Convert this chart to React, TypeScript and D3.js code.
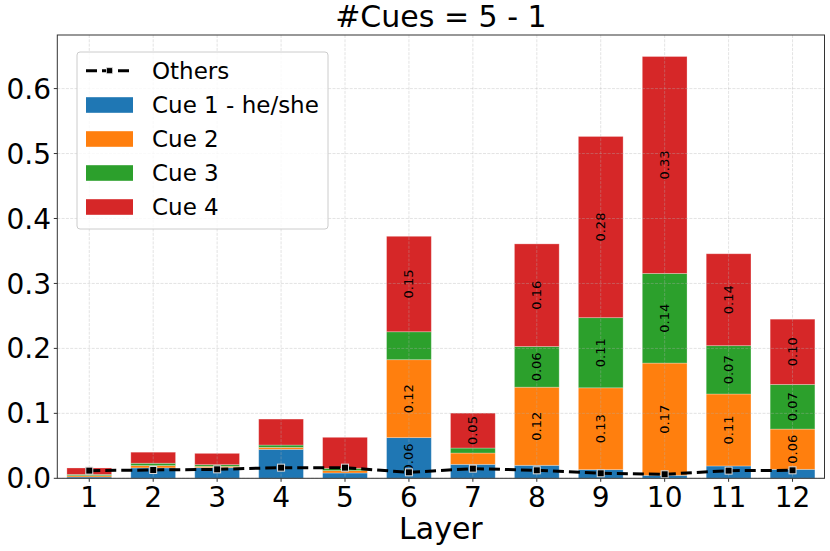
import React from 'react';
import * as d3 from 'd3';

// values
const layers = [1, 2, 3, 4, 5, 6, 7, 8, 9, 10, 11, 12];
const cue1 = [0.002, 0.016, 0.0164, 0.0446, 0.0082, 0.0626, 0.0215, 0.02, 0.0133, 0.0046, 0.019, 0.0138];
const cue2 = [0.002, 0.0036, 0.002, 0.003, 0.0036, 0.12, 0.0174, 0.1203, 0.126, 0.1728, 0.1108, 0.062];
const cue3 = [0.002, 0.0036, 0.0026, 0.0036, 0.0036, 0.043, 0.0077, 0.0626, 0.108, 0.138, 0.0744, 0.0687];
const cue4 = [0.0099, 0.017, 0.0174, 0.04, 0.0477, 0.147, 0.0538, 0.158, 0.279, 0.334, 0.1415, 0.1005];
const others = [0.0118, 0.0128, 0.0138, 0.0164, 0.0164, 0.0092, 0.0149, 0.0123, 0.0077, 0.0062, 0.0118, 0.0123];
const seriesNames = ['Cue 1 - he/she', 'Cue 2', 'Cue 3', 'Cue 4'];
const seriesColors = ['#1f77b4', '#ff7f0e', '#2ca02c', '#d62728'];
const yTicks = [0, 0.1, 0.2, 0.3, 0.4, 0.5, 0.6];

const W = 830;
const H = 551;
const plot = { left: 57.3, right: 824.5, top: 35, bottom: 478.3 };
const font = 'DejaVu Sans, sans-serif';

const App: React.FC = () => {
  const x = d3.scaleLinear().domain([0.5, 12.5]).range([plot.left, plot.right]);
  const y = d3.scaleLinear().domain([0, 0.6825]).range([plot.bottom, plot.top]);
  const barW = x(0.7) - x(0);

  const table = layers.map((layer, i) => ({
    layer,
    c0: cue1[i],
    c1: cue2[i],
    c2: cue3[i],
    c3: cue4[i],
  }));
  const stacked = d3.stack<any>().keys(['c0', 'c1', 'c2', 'c3'])(table);

  const line = d3
    .line<number>()
    .x((_, i) => x(layers[i]))
    .y((d) => y(d));

  const legendY = [70.7, 105, 139, 173, 207];

  return (
    <svg
      width={W}
      height={H}
      style={{ position: 'absolute', left: 0, top: 0, background: '#fff' }}
      fontFamily={font}
    >
      {/* bars */}
      {stacked.map((s, k) => (
        <g key={k} fill={seriesColors[k]}>
          {s.map((d, i) => (
            <rect
              key={i}
              x={x(layers[i]) - barW / 2}
              y={y(d[1])}
              width={barW}
              height={y(d[0]) - y(d[1])}
              stroke="#fff"
              strokeOpacity={0.35}
              strokeWidth={0.8}
            />
          ))}
        </g>
      ))}

      {/* grid above bars */}
      <g stroke="#b0b0b0" strokeOpacity={0.45} strokeWidth={0.8} strokeDasharray="3,1.3">
        {layers.map((l) => (
          <line key={'gx' + l} x1={x(l)} x2={x(l)} y1={plot.top} y2={plot.bottom} />
        ))}
        {yTicks.map((t) => (
          <line key={'gy' + t} x1={plot.left} x2={plot.right} y1={y(t)} y2={y(t)} />
        ))}
      </g>

      {/* value labels */}
      {stacked.map((s, k) =>
        s.map((d, i) => {
          const v = d[1] - d[0];
          if (v < 0.05) return null;
          const cx = x(layers[i]);
          const cy = y((d[0] + d[1]) / 2);
          return (
            <text
              key={k + '-' + i}
              transform={`translate(${cx},${cy}) rotate(-90)`}
              textAnchor="middle"
              dy="0.35em"
              fontSize={13}
              fill="#000"
            >
              {v.toFixed(2)}
            </text>
          );
        })
      )}

      {/* Others line */}
      <path
        d={line(others) || ''}
        fill="none"
        stroke="#000"
        strokeWidth={3}
        strokeDasharray="11,5"
      />
      {others.map((v, i) => (
        <rect
          key={'m' + i}
          x={x(layers[i]) - 3.5}
          y={y(v) - 3.5}
          width={7}
          height={7}
          fill="#000"
          stroke="#ddd"
          strokeWidth={1}
        />
      ))}

      {/* frame */}
      <rect
        x={plot.left}
        y={plot.top}
        width={plot.right - plot.left}
        height={plot.bottom - plot.top}
        fill="none"
        stroke="#333"
        strokeWidth={1}
      />

      {/* x axis */}
      {layers.map((l) => (
        <g key={'xt' + l}>
          <line x1={x(l)} x2={x(l)} y1={plot.bottom} y2={plot.bottom + 3.5} stroke="#333" />
          <text x={x(l)} y={506.5} textAnchor="middle" fontSize={28} fill="#000">
            {l}
          </text>
        </g>
      ))}
      <text x={(plot.left + plot.right) / 2} y={539} textAnchor="middle" fontSize={30} fill="#000">
        Layer
      </text>

      {/* y axis */}
      {yTicks.map((t) => (
        <g key={'yt' + t}>
          <line x1={plot.left - 3.5} x2={plot.left} y1={y(t)} y2={y(t)} stroke="#333" />
          <text x={51} y={y(t)} dy="0.36em" textAnchor="end" fontSize={28} fill="#000">
            {t.toFixed(1)}
          </text>
        </g>
      ))}

      {/* title */}
      <text x={(plot.left + plot.right) / 2} y={27.3} textAnchor="middle" fontSize={30} fill="#000">
        #Cues = 5 - 1
      </text>

      {/* legend */}
      <g>
        <rect x={77} y={52} width={251} height={177} rx={3} fill="#fff" fillOpacity={0.8} stroke="#ccc" />
        <line x1={86} x2={133} y1={legendY[0]} y2={legendY[0]} stroke="#000" strokeWidth={3} strokeDasharray="11,5" />
        <rect x={109.5 - 3} y={legendY[0] - 3} width={6} height={6} fill="#000" stroke="#ddd" strokeWidth={0.8} />
        <text x={152} y={legendY[0]} dy="0.35em" fontSize={23} fill="#000">
          Others
        </text>
        {seriesNames.map((name, k) => (
          <g key={name}>
            <rect x={86} y={legendY[k + 1] - 7.8} width={47} height={15.6} fill={seriesColors[k]} />
            <text x={152} y={legendY[k + 1]} dy="0.35em" fontSize={23} fill="#000">
              {name}
            </text>
          </g>
        ))}
      </g>
    </svg>
  );
};

export default App;
